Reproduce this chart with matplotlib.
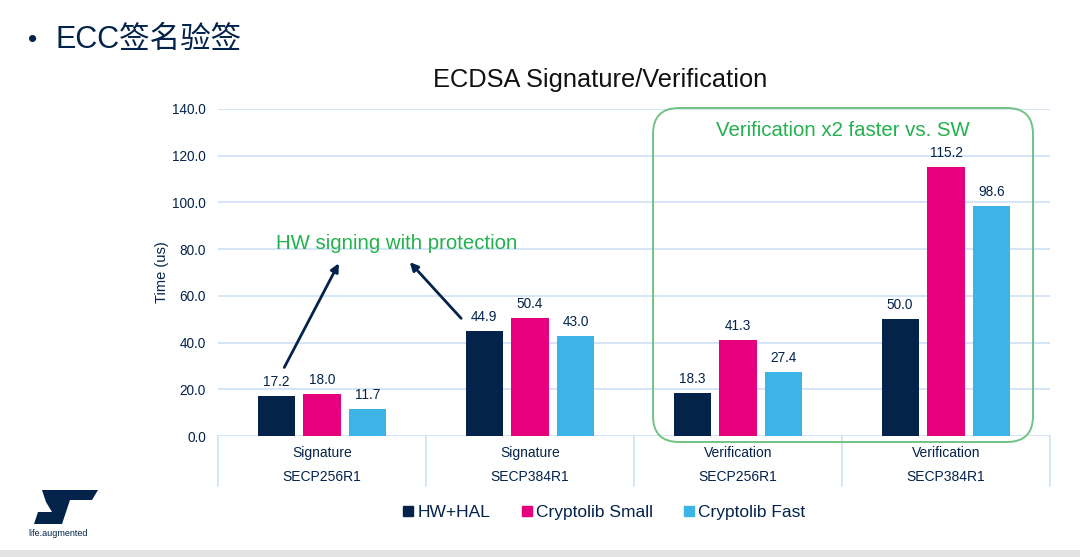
import matplotlib
matplotlib.use("Agg")
import matplotlib.pyplot as plt
from matplotlib.patches import FancyBboxPatch, Polygon
from matplotlib.lines import Line2D
import matplotlib.transforms as mtrans

plt.rcParams['font.family'] = ['Liberation Sans', 'Noto Sans CJK SC', 'DejaVu Sans']

# ---- data ----
inner_labels = ['Signature', 'Signature', 'Verification', 'Verification']
outer_labels = ['SECP256R1', 'SECP384R1', 'SECP256R1', 'SECP384R1']
series_names = ['HW+HAL', 'Cryptolib Small', 'Cryptolib Fast']
hw_hal = [17.2, 44.9, 18.3, 50.0]
crypto_small = [18.0, 50.4, 41.3, 115.2]
crypto_fast = [11.7, 43.0, 27.4, 98.6]
y_ticks = [0, 20, 40, 60, 80, 100, 120, 140]

NAVY = '#03234b'
PINK = '#e6007e'
BLUE = '#3cb4e6'
GRID = '#cfe0f7'
GREEN_TXT = '#22b14c'
GREEN_BOX = '#72c283'
colors = [NAVY, PINK, BLUE]

W, H = 1080, 557
fig = plt.figure(figsize=(W / 100, H / 100), dpi=100)
fig.patch.set_facecolor('white')

def fx(px):
    return px / W

def fy(py):
    return 1 - py / H

ax = fig.add_axes([fx(218), fy(436), fx(1050) - fx(218), fy(109) - fy(436)])
ax.set_xlim(0, 4)
ax.set_ylim(0, 140)
for s in ax.spines.values():
    s.set_visible(False)
ax.set_yticks(y_ticks)
ax.set_yticklabels([f'{v:.1f}' for v in y_ticks], fontsize=9.8, color=NAVY)
ax.tick_params(axis='y', length=0, pad=8.6)
ax.set_xticks([])
ax.yaxis.grid(True, color=GRID, linewidth=1.2)
ax.set_axisbelow(True)
ax.set_ylabel('Time (us)', fontsize=10.5, color=NAVY)
ax.yaxis.set_label_coords((169 - 218) / 832, 0.5)

series = [hw_hal, crypto_small, crypto_fast]
offsets = [-0.221, 0.0, 0.221]
width = 0.178
for vals, off, c in zip(series, offsets, colors):
    xs = [i + 0.5 + off for i in range(len(vals))]
    bars = ax.bar(xs, vals, width=width, color=c, zorder=3)
    for b, v in zip(bars, vals):
        ax.annotate(f'{v:.1f}', (b.get_x() + b.get_width() / 2, v),
                    xytext=(0, 5), textcoords='offset points',
                    ha='center', va='bottom', fontsize=9.8, color=NAVY, zorder=4)

# two-level category axis
trans = mtrans.blended_transform_factory(ax.transData, ax.transAxes)
y_bottom = -50 / 327
for i in range(5):
    ax.plot([i, i], [0, y_bottom], transform=trans, color=GRID, lw=1.2, clip_on=False)
for i, (a, b) in enumerate(zip(inner_labels, outer_labels)):
    ax.text(i + 0.5, -17 / 327, a, transform=trans, ha='center', va='center',
            fontsize=10, color=NAVY)
    ax.text(i + 0.5, -41 / 327, b, transform=trans, ha='center', va='center',
            fontsize=10, color=NAVY)

# annotations
ax.text(0.861, 82.6, 'HW signing with protection', ha='center', va='center',
        fontsize=14.7, color=GREEN_TXT, zorder=5)
ax.annotate('', xy=(0.587, 75.0), xytext=(0.3125, 28.3),
            arrowprops=dict(arrowstyle='-|>', color=NAVY, lw=2, mutation_scale=12),
            zorder=5)
ax.annotate('', xy=(0.913, 75.3), xytext=(1.178, 49.5),
            arrowprops=dict(arrowstyle='-|>', color=NAVY, lw=2, mutation_scale=12),
            zorder=5)
ax.text(3.005, 131, 'Verification x2 faster vs. SW', ha='center', va='center',
        fontsize=14.7, color=GREEN_TXT, zorder=5)

# rounded green box (figure coords, circular corners)
r = 26
box = FancyBboxPatch((fx(653), fy(442)), fx(1033) - fx(653), fy(108) - fy(442),
                     boxstyle=f'round,pad=0,rounding_size={r / W}',
                     mutation_aspect=W / H, transform=fig.transFigure,
                     facecolor='none', edgecolor=GREEN_BOX, lw=1.4, zorder=6)
fig.patches.append(box)

# titles
fig.text(fx(600), fy(80), 'ECDSA Signature/Verification', ha='center', va='center',
         fontsize=18.3, color='#111111')
fig.text(fx(28), fy(40), '•', ha='left', va='center', fontsize=19, color=NAVY)
fig.text(fx(55), fy(40), 'ECC签名验签', ha='left', va='center', fontsize=22,
         color=NAVY, fontweight='medium')

# legend
handles = [Line2D([], [], marker='s', linestyle='none', markersize=7,
                  markerfacecolor=c, markeredgecolor=c) for c in colors]
fig.legend(handles, series_names, loc='center', bbox_to_anchor=(fx(603), fy(512)),
           ncol=3, frameon=False, fontsize=12.5, handletextpad=0.1,
           columnspacing=1.6, labelcolor=NAVY, handlelength=0.9)

# ST logo (simplified)
logo = Polygon([[fx(42), fy(490)], [fx(98), fy(490)], [fx(92), fy(500)],
                [fx(70), fy(500)], [fx(62), fy(524)], [fx(34), fy(524)],
                [fx(38), fy(512)], [fx(52), fy(512)], [fx(46), fy(502)]],
               closed=True, transform=fig.transFigure, facecolor=NAVY, edgecolor='none')
fig.patches.append(logo)
fig.text(fx(28), fy(534), 'life.augmented', ha='left', va='center', fontsize=6.5,
         color=NAVY)

# gray strip at bottom
strip = plt.Rectangle((0, 0), 1, fy(550), transform=fig.transFigure,
                      facecolor='#e3e3e3', edgecolor='none')
fig.patches.append(strip)

fig.savefig('out.png', dpi=100)
